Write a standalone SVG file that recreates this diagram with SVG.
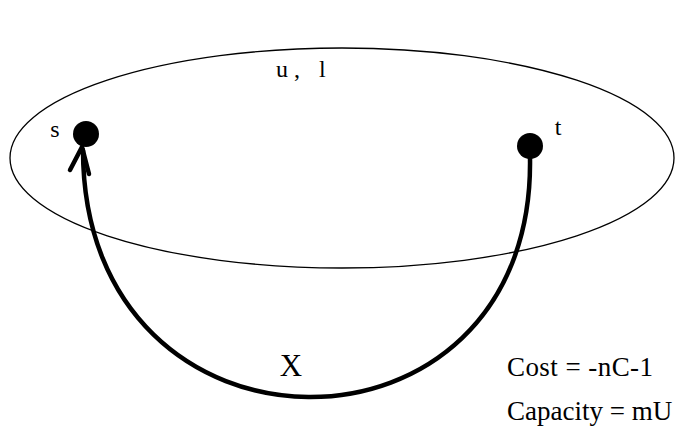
<svg xmlns="http://www.w3.org/2000/svg" width="683" height="430" viewBox="0 0 683 430">
<style>
text{font-family:"Liberation Serif","Times New Roman",serif;fill:#000}
.lbl{font-size:24px}
.big{font-size:27px}
.node{fill:#000}
.edge{fill:none;stroke:#000;stroke-width:4.5;stroke-linecap:round}
</style>
<rect width="683" height="430" fill="#fff"/>
<g id="region">
<ellipse cx="342" cy="158" rx="332" ry="110" fill="none" stroke="#000" stroke-width="1.3"/>
<text class="lbl" y="77"><tspan x="276">u</tspan><tspan x="294">,</tspan><tspan x="319">l</tspan></text>
</g>
<g id="connectors">
<path class="edge" d="M530,158 C535,478 83,478 83,150"/>
<path class="edge" d="M70,170 L82,147 L89,174"/>
<text x="291" y="376" font-size="31" text-anchor="middle">X</text>
</g>
<g id="node-s">
<circle class="node" cx="86" cy="134" r="13"/>
<text class="lbl" x="55" y="137" text-anchor="middle">s</text>
</g>
<g id="node-t">
<circle class="node" cx="530" cy="146" r="13"/>
<text class="lbl" x="558" y="135" text-anchor="middle">t</text>
</g>
<g id="labels">
<text class="big" x="507" y="376" textLength="146" lengthAdjust="spacing">Cost = -nC-1</text>
<text class="big" x="507" y="420">Capacity = mU</text>
</g>
</svg>
